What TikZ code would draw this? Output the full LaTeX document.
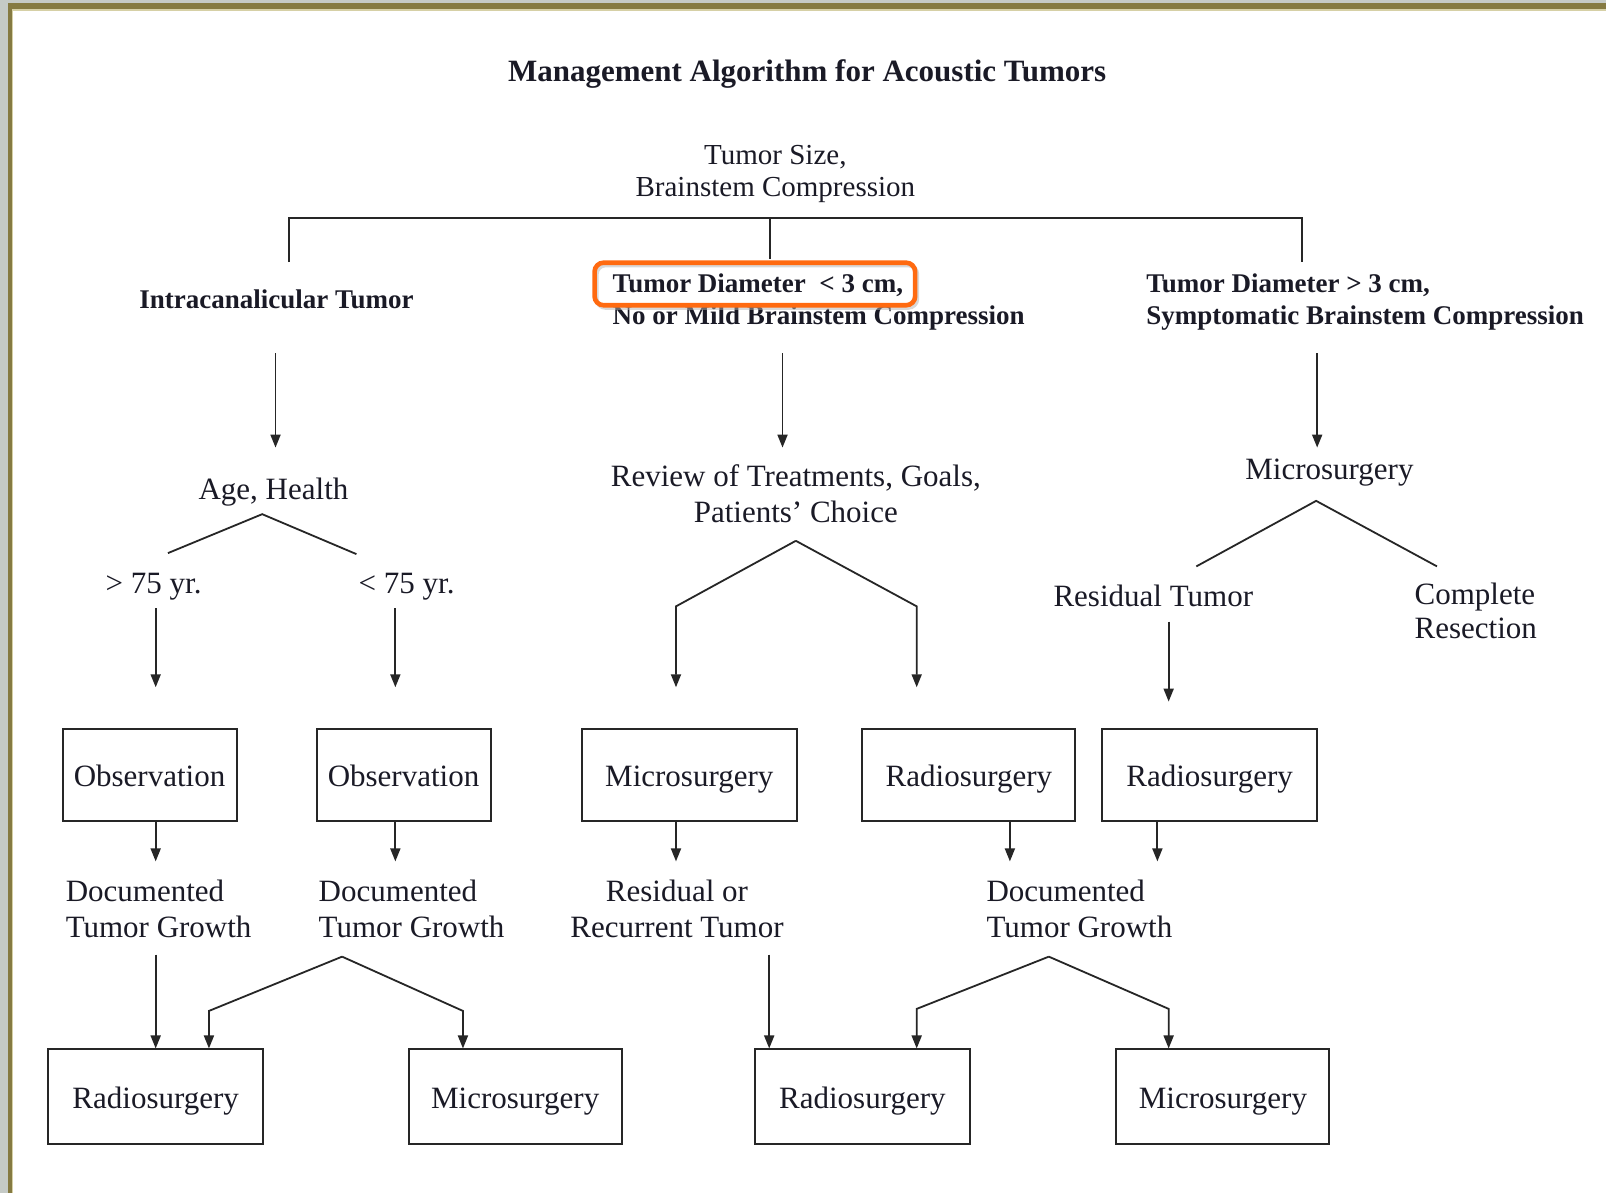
\documentclass[tikz,border=0pt]{standalone}
\usepackage{fontspec}
\setmainfont{Liberation Serif}
\usetikzlibrary{arrows.meta}
\definecolor{bggrey}{HTML}{C5CAC6}
\definecolor{frameolive}{HTML}{857A42}
\definecolor{frameline}{HTML}{D6D0A6}
\definecolor{hlorange}{HTML}{FF6A10}
\definecolor{inkc}{HTML}{1A1A26}
\tikzset{
  txt/.style={inner sep=0pt, text=inkc, font=\fontsize{31}{36}\selectfont, align=center},
  txtsmall/.style={inner sep=0pt, text=inkc, font=\fontsize{29}{32}\selectfont, align=center},
  bold/.style={inner sep=0pt, text=inkc, font=\fontsize{27}{32}\selectfont\bfseries, align=left},
  ttl/.style={inner sep=0pt, text=inkc, font=\fontsize{31}{36}\selectfont\bfseries},
  boxn/.style={draw=black!85, line width=2pt, inner sep=0pt, text=inkc, font=\fontsize{31}{36}\selectfont, minimum height=92pt, text height=24pt, text depth=1pt},
  ln/.style={draw=black!85, line width=1.8pt},
  arr/.style={ln, -{Triangle[length=13pt,width=10pt]}}
}
\begin{document}
\begin{tikzpicture}[x=1.0242pt,y=-1.0242pt]
\useasboundingbox (0,0) rectangle (1568,1165);
% frame
\fill[bggrey] (0,0) rectangle (1568,1165);
\fill[frameolive] (7.8,2.9) rectangle (1568,1165);
\fill[frameline] (11.7,8.8) rectangle (1568,1165);
\fill[white] (13,10.4) rectangle (1568,1165);

% texts
\node[ttl] (title) at (788,72) {Management Algorithm for Acoustic Tumors};
\node[txtsmall] (tsize) at (757,170) {Tumor Size,\\Brainstem Compression};
\node[bold, align=center] (intra) at (270,292) {Intracanalicular Tumor};
\node[bold, anchor=west] (tdsmall) at (598,295) {Tumor Diameter \ {<} 3 cm,\\No or Mild Brainstem Compression};
\node[bold, anchor=west] (tdlarge) at (1119,295) {Tumor Diameter {>} 3 cm,\\Symptomatic Brainstem Compression};

% highlight
\draw[black!30, line width=4pt, rounded corners=9pt, opacity=0.5] (582.5,259) rectangle (895.5,300.5);
\draw[hlorange, line width=4.6pt, rounded corners=9pt] (580.5,256.5) rectangle (893.5,298);

\node[txt] (age) at (267,480) {Age, Health};
\node[txt] (gt) at (150,573) {{>} 75 yr.};
\node[txt] (lt) at (397,573) {{<} 75 yr.};
\node[txt] (review) at (777,482) {Review of Treatments, Goals,\\Patients’ Choice};
\node[txt] (msurg) at (1298,461) {Microsurgery};
\node[txt] (resid) at (1126,582) {Residual Tumor};
\node[txt, anchor=west, align=left, font=\fontsize{31}{34}\selectfont] (compl) at (1381,596) {Complete\\Resection};

% first row boxes
\node[boxn, minimum width=174pt] (obs1) at (146,757) {Observation};
\node[boxn, minimum width=174pt] (obs2) at (394,757) {Observation};
\node[boxn, minimum width=215pt] (mic1) at (673,757) {Microsurgery};
\node[boxn, minimum width=213pt] (rad1) at (946,757) {Radiosurgery};
\node[boxn, minimum width=215pt] (rad2) at (1181,757) {Radiosurgery};

\node[txt, anchor=west, align=left] (doc1) at (64,887) {Documented\\Tumor Growth};
\node[txt, anchor=west, align=left] (doc2) at (311,887) {Documented\\Tumor Growth};
\node[txt] (resrec) at (661,887) {Residual or\\Recurrent Tumor};
\node[txt, anchor=west, align=left] (doc3) at (963,887) {Documented\\Tumor Growth};

% bottom boxes
\node[boxn, minimum width=215pt, minimum height=95pt] (rad3) at (152,1071) {Radiosurgery};
\node[boxn, minimum width=213pt, minimum height=95pt] (mic2) at (503,1071) {Microsurgery};
\node[boxn, minimum width=215pt, minimum height=95pt] (rad4) at (842,1071) {Radiosurgery};
\node[boxn, minimum width=213pt, minimum height=95pt] (mic3) at (1194,1071) {Microsurgery};

% coordinates
\coordinate (jL) at (282,213);
\coordinate (jM) at (752,213);
\coordinate (jR) at (1271,213);
\coordinate (bL) at (282,256);
\coordinate (bM) at (752,253);
\coordinate (bR) at (1271,256);

\coordinate (a1s) at (269,345); \coordinate (a1e) at (269,437);
\coordinate (a2s) at (764,345); \coordinate (a2e) at (764,437);
\coordinate (a3s) at (1286,345); \coordinate (a3e) at (1286,437);

\coordinate (agL) at (164,540); \coordinate (agP) at (256,502); \coordinate (agR) at (348,541);
\coordinate (g1s) at (152,594); \coordinate (g1e) at (152,671);
\coordinate (g2s) at (386,594); \coordinate (g2e) at (386,671);

\coordinate (rvP) at (777,528); \coordinate (rvL) at (660,592); \coordinate (rvLe) at (660,671);
\coordinate (rvR) at (895,592); \coordinate (rvRe) at (895,671);

\coordinate (msL) at (1168,553); \coordinate (msP) at (1285,489); \coordinate (msR) at (1403,553);
\coordinate (rts) at (1141,607); \coordinate (rte) at (1141,685);

\coordinate (d1e) at (152,841);
\coordinate (d2e) at (386,841);
\coordinate (d3e) at (660,841);
\coordinate (d4e) at (986,841);
\coordinate (d5e) at (1130,841);

\coordinate (e1s) at (152,932);
\coordinate (bp1) at (334,934); \coordinate (bk1) at (204,987); \coordinate (bk2) at (452,987);
\coordinate (e2s) at (751,932);
\coordinate (bp2) at (1024,934); \coordinate (bk3) at (895,985); \coordinate (bk4) at (1141,985);

% connectors
\draw[ln] (bL) -- (jL) -- (jR) -- (bR);
\draw[ln] (jM) -- (bM);
\draw[arr] (a1s) -- (a1e);
\draw[arr] (a2s) -- (a2e);
\draw[arr] (a3s) -- (a3e);
\draw[ln] (agL) -- (agP) -- (agR);
\draw[arr] (g1s) -- (g1e);
\draw[arr] (g2s) -- (g2e);
\draw[arr] (rvP) -- (rvL) -- (rvLe);
\draw[arr] (rvP) -- (rvR) -- (rvRe);
\draw[ln] (msL) -- (msP) -- (msR);
\draw[arr] (rts) -- (rte);

\draw[arr] (obs1.south -| d1e) -- (d1e);
\draw[arr] (obs2.south -| d2e) -- (d2e);
\draw[arr] (mic1.south -| d3e) -- (d3e);
\draw[arr] (rad1.south -| d4e) -- (d4e);
\draw[arr] (rad2.south -| d5e) -- (d5e);

\draw[arr] (e1s) -- (rad3.north -| e1s);
\draw[arr] (bp1) -- (bk1) -- (rad3.north -| bk1);
\draw[arr] (bp1) -- (bk2) -- (mic2.north -| bk2);
\draw[arr] (e2s) -- (rad4.north -| e2s);
\draw[arr] (bp2) -- (bk3) -- (rad4.north -| bk3);
\draw[arr] (bp2) -- (bk4) -- (mic3.north -| bk4);
\end{tikzpicture}
\end{document}
